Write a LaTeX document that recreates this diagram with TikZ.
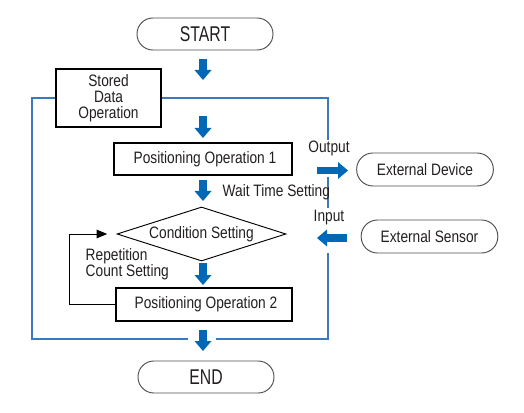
\documentclass[tikz,border=0pt]{standalone}
\usepackage{fontspec}
\setmainfont{Liberation Sans}[FakeStretch=0.83]
\newfontfamily\termfont{Liberation Sans}[FakeStretch=0.74]
\usepackage{tikz}
\usetikzlibrary{arrows.meta,shapes.geometric}

\definecolor{flowblue}{HTML}{0068B7}
\definecolor{frameblue}{HTML}{3B78BD}
\definecolor{inkgray}{HTML}{231F20}

\tikzset{
  flowtext/.style={text=inkgray, font=\fontsize{12.4}{12}\selectfont},
  flowbox/.style={flowtext, draw=black, line width=0.85pt, fill=white, inner sep=0pt},
  termbox/.style={draw=inkgray!80, line width=0.7pt, rounded corners=11.9pt, minimum width=102pt,
                  minimum height=24pt, text=inkgray, font=\termfont\fontsize{16}{16}\selectfont},
  extbox/.style={termbox, minimum width=102.5pt, minimum height=24.75pt, rounded corners=12.2pt,
                 font=\fontsize{12.4}{12}\selectfont},
  decision/.style={flowtext, draw=black, line width=0.7pt, shape=diamond, aspect=3.1, inner sep=0pt,
                   minimum width=126.75pt, minimum height=40.5pt},
  blockarrow/.style={draw=flowblue, line width=5.6pt, -{Triangle[width=12.75pt,length=7.5pt,line width=0pt]}},
  frameline/.style={draw=frameblue, line width=0.8pt},
  loopline/.style={draw=black, line width=0.75pt, -{Triangle[width=6.5pt,length=8pt]}},
}

\begin{document}
\begin{tikzpicture}[x=0.75pt,y=-0.75pt]
        \useasboundingbox (0,0) rectangle (524,413);

        % blue frame round the stored data part
        \draw [frameline] (188,339) -- (32,339) |- (328,98) -- (328,140);
        \draw [frameline] (328,177) -- (328,208);
        \draw [frameline] (328,253) -- (328,339) -- (216,339);

        \node [termbox] (start) at (205,34)    {START};                         %
        \draw [blockarrow]      (203,59)  -- (203,80);                          %
        \node [flowbox, minimum width=78.75pt, minimum height=43.5pt, align=center]
              (stored) at (108.5,98) {Stored\\Data\\Operation};                 %
        \draw [blockarrow]      (203,116) -- (203,138);                         %
        \node [flowbox, minimum width=133.5pt, minimum height=24pt]
              (op1) at (203,159)   {\hspace{3pt}Positioning Operation 1};       %
        \draw [blockarrow]      (203,180) -- (203,201);                         %
        \node [flowtext, anchor=west] (wait) at (218,192) {Wait Time Setting};  %
        \node [decision] (cond) at (201.5,234) {Condition Setting};             %
        \draw [blockarrow]      (203,263) -- (203,285);                         %
        \node [flowtext, anchor=west, align=left]
              (repcount) at (81,264.5) {Repetition\\Count Setting};             %
        \node [flowbox, minimum width=132pt, minimum height=24.75pt]
              (op2) at (204,304.5) {\hspace{3pt}Positioning Operation 2};       %
        \draw [loopline] (op2.west) -- ++(-46,0) |- ([xshift=-7pt]cond.west);   % repeat
        \draw [blockarrow]      (203,330) -- (203,351);                         %
        \node [termbox] (end) at (206,377)     {END};                           %

        % outside the frame
        \node [flowtext] (output) at (329,148) {Output};                        %
        \draw [blockarrow]      (317,170.5) -- (348,170.5);                     %
        \node [extbox] (device) at (425,169.5) {External Device};               %
        \node [flowtext] (input)  at (329,218) {Input};                         %
        \draw [blockarrow]      (347,238) -- (317,238);                         %
        \node [extbox] (sensor) at (429.5,236.5) {External Sensor};             %
\end{tikzpicture}
\end{document}
